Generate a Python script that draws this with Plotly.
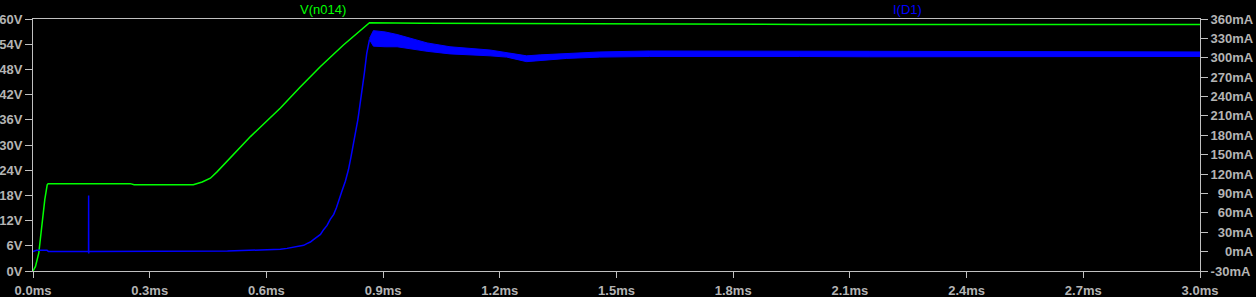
import plotly.graph_objects as go

# ---- data ----
# V(n014) [V] vs time [ms]
v_t = [0.0, 0.0064, 0.0149, 0.0236, 0.0303, 0.0365, 0.039, 0.25, 0.26, 0.412, 0.435, 0.456,
       0.473, 0.559, 0.636, 0.687, 0.739, 0.798, 0.841, 0.865, 1.0, 1.5, 2.0, 3.0]
v_val = [0.0, 1.1, 4.3, 12.2, 17.0, 20.5, 20.8, 20.8, 20.55, 20.55, 21.2, 22.1,
         23.6, 32.0, 38.8, 43.8, 48.7, 53.8, 57.2, 59.1, 59.0, 58.8, 58.7, 58.7]

# I(D1) [mA] vs time [ms] (start-up part)
i_t = [0.0, 0.009, 0.036, 0.04, 0.1428, 0.1430, 0.1432, 0.1434, 0.5, 0.623, 0.636, 0.653,
       0.670, 0.683, 0.696, 0.704, 0.713, 0.721, 0.730, 0.739, 0.747, 0.756, 0.764, 0.773,
       0.780, 0.786, 0.794, 0.803, 0.811, 0.817, 0.824, 0.830, 0.835, 0.837, 0.846, 0.852,
       0.858, 0.865]
i_val = [0.0, 2.0, 2.0, 0.0, 0.0, 87.0, -3.0, 0.0, 1.0, 3.0, 3.6, 5.0,
         6.7, 8.2, 9.7, 12.3, 14.8, 18.5, 22.5, 26.7, 34.0, 40.6, 50.0, 57.6,
         68.0, 80.7, 93.5, 109.0, 127.0, 145.0, 166.0, 189.0, 204.0, 212.0, 248.0, 277.0,
         307.0, 328.0]

# I(D1) ripple envelope [mA] after start-up
rip_t = [0.865, 0.875, 0.905, 0.936, 1.013, 1.072, 1.175, 1.218, 1.269, 1.304, 1.372,
         1.457, 1.585, 1.97, 2.15, 3.0]
rip_hi = [330.0, 342.0, 340.0, 336.0, 323.0, 317.0, 312.0, 308.0, 303.0, 304.5, 307.0,
          309.0, 310.5, 310.5, 310.0, 309.0]
rip_lo = [328.0, 318.0, 317.0, 317.0, 310.0, 306.0, 303.0, 301.0, 294.0, 296.0, 299.0,
          301.0, 302.0, 302.0, 301.5, 302.0]

x_ticks = [0.0, 0.3, 0.6, 0.9, 1.2, 1.5, 1.8, 2.1, 2.4, 2.7, 3.0]
x_labels = ["0.0ms", "0.3ms", "0.6ms", "0.9ms", "1.2ms", "1.5ms", "1.8ms", "2.1ms",
            "2.4ms", "2.7ms", "3.0ms"]
y_ticks = [0, 6, 12, 18, 24, 30, 36, 42, 48, 54, 60]
y_labels = ["0V", "6V", "12V", "18V", "24V", "30V", "36V", "42V", "48V", "54V", "60V"]
y2_ticks = [-30, 0, 30, 60, 90, 120, 150, 180, 210, 240, 270, 300, 330, 360]
y2_labels = ["-30mA", "0mA", "30mA", "60mA", "90mA", "120mA", "150mA", "180mA",
             "210mA", "240mA", "270mA", "300mA", "330mA", "360mA"]

# ---- styling ----
GREEN = "#00ff00"
BLUE = "#0000ff"
AXIS = "#c0c0c0"
TXT = "#b4b4b4"
FIG = "\u2007"
# right-align the right-axis labels with figure spaces
maxdig = max(len(s.replace("mA", "")) for s in y2_labels)
y2_text = [FIG * (maxdig - len(s.replace("mA", ""))) + s for s in y2_labels]

fig = go.Figure()
fig.add_trace(go.Scatter(x=rip_t, y=rip_hi, yaxis="y2", mode="lines",
                         line=dict(color=BLUE, width=1), hoverinfo="skip"))
fig.add_trace(go.Scatter(x=rip_t, y=rip_lo, yaxis="y2", mode="lines", fill="tonexty",
                         fillcolor=BLUE, line=dict(color=BLUE, width=1), hoverinfo="skip"))
fig.add_trace(go.Scatter(x=i_t, y=i_val, yaxis="y2", mode="lines",
                         line=dict(color=BLUE, width=1.5)))
fig.add_trace(go.Scatter(x=v_t, y=v_val, mode="lines",
                         line=dict(color=GREEN, width=1.5)))

tickfont = dict(family="Liberation Sans", size=13, color=TXT, weight="bold")
fig.update_layout(
    width=1256, height=297,
    margin=dict(l=33, r=56, t=19, b=26, autoexpand=False),
    paper_bgcolor="black", plot_bgcolor="black",
    showlegend=False,
    xaxis=dict(range=[0, 3], tickvals=x_ticks, ticktext=x_labels, showgrid=False,
               zeroline=False, showline=True, linecolor=AXIS, linewidth=1, mirror=True,
               ticks="outside", ticklen=6, tickcolor=AXIS, tickfont=tickfont,
               automargin=False, ticklabelstandoff=1),
    yaxis=dict(range=[0, 60], tickvals=y_ticks, ticktext=y_labels, showgrid=False,
               zeroline=False, showline=True, linecolor=AXIS, linewidth=1, mirror=True,
               ticks="outside", ticklen=7, tickcolor=AXIS, tickfont=tickfont,
               automargin=False, ticklabelstandoff=0),
    yaxis2=dict(range=[-30, 360], tickvals=y2_ticks, ticktext=y2_text, overlaying="y",
                side="right", showgrid=False, zeroline=False, showline=True,
                linecolor=AXIS, linewidth=1, ticks="outside", ticklen=7, tickcolor=AXIS,
                tickfont=tickfont, automargin=False, ticklabelstandoff=0),
    annotations=[
        dict(text="V(n014)", xref="paper", yref="paper", x=0.2485, y=1.0, yshift=10,
             showarrow=False, xanchor="center", yanchor="middle",
             font=dict(family="Liberation Sans", size=13, color=GREEN)),
        dict(text="I(D1)", xref="paper", yref="paper", x=0.749, y=1.0, yshift=10,
             showarrow=False, xanchor="center", yanchor="middle",
             font=dict(family="Liberation Sans", size=13, color=BLUE)),
    ],
)

fig.write_html("out.html")
